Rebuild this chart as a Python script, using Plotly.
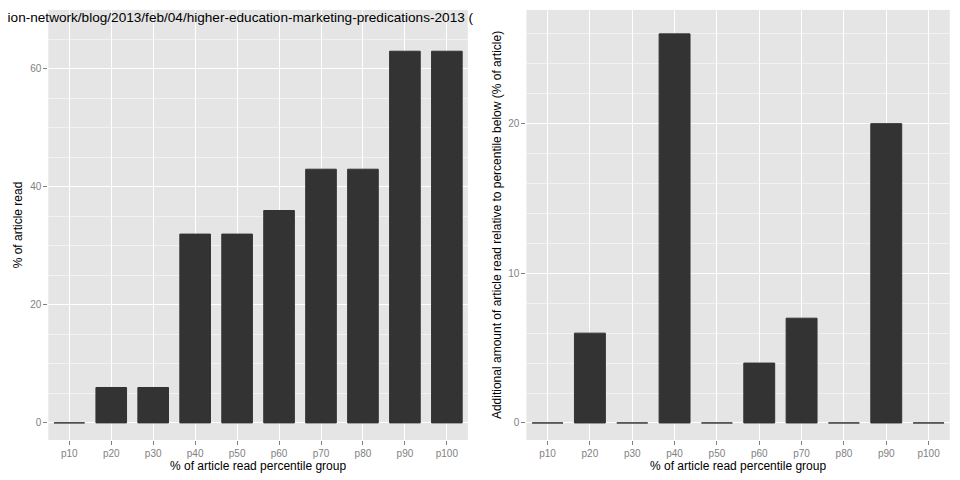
import plotly.graph_objects as go
from plotly.subplots import make_subplots

groups = ["p10", "p20", "p30", "p40", "p50", "p60", "p70", "p80", "p90", "p100"]
pct_read = [0, 6, 6, 32, 32, 36, 43, 43, 63, 63]
additional = [0, 6, 0, 26, 0, 4, 7, 0, 20, 0]
title_text = ("http://www.guardian.co.uk/higher-education-network/blog/2013/feb/04/"
              "higher-education-marketing-predications-2013 (")

fig = make_subplots(rows=1, cols=2)
for col, vals in [(1, pct_read), (2, additional)]:
    fig.add_trace(go.Bar(x=groups, y=vals, marker_color="#333333",
                         marker_line=dict(color="#333333", width=1),
                         showlegend=False), row=1, col=col)

axis_common = dict(
    showgrid=True, gridcolor="white", gridwidth=1.2, zeroline=False,
    ticks="outside", ticklen=4, tickcolor="#7F7F7F",
    tickfont=dict(size=10, color="#7F7F7F"),
    title_font=dict(size=12, color="black"),
)
fig.update_xaxes(**axis_common, title_text="% of article read percentile group", title_standoff=2)
fig.update_yaxes(**axis_common, minor=dict(showgrid=True, gridcolor="#F2F2F2", gridwidth=0.6))

fig.update_layout(
    width=960, height=480,
    margin=dict(l=0, r=0, t=0, b=0),
    plot_bgcolor="#E5E5E5", paper_bgcolor="white",
    font=dict(family="Liberation Sans, Arial, sans-serif"),
    bargap=0.27,
    xaxis=dict(domain=[0.042, 0.479]),
    xaxis2=dict(domain=[0.540, 0.981]),
    yaxis=dict(domain=[0.1, 0.996], range=[-2.9, 70], dtick=20,
               title_text="% of article read", title_standoff=4),
    yaxis2=dict(domain=[0.1, 0.996], range=[-1.14, 27.6], dtick=10,
                title_text="Additional amount of article read relative to percentile below (% of article)",
                title_standoff=4),
)
fig.add_annotation(text=title_text, xref="paper", yref="paper", x=0.487, y=1.0,
                   xanchor="right", yanchor="top", showarrow=False,
                   font=dict(size=13.6, color="black"))

fig.write_html("out.html")
